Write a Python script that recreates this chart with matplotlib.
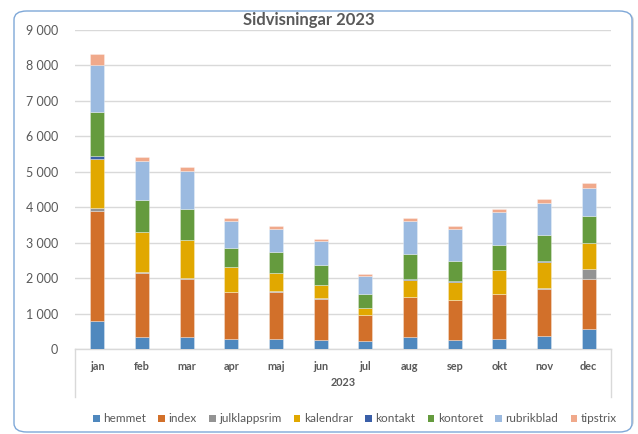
import numpy as np
import matplotlib
matplotlib.use("Agg")
import matplotlib.pyplot as plt
from matplotlib.patches import FancyBboxPatch, Patch
from matplotlib.ticker import FuncFormatter

# ---------------- data ----------------
months = ["jan", "feb", "mar", "apr", "maj", "jun",
          "jul", "aug", "sep", "okt", "nov", "dec"]
year_label = "2023"

hemmet = [790, 347, 330, 274, 274, 262, 217, 339, 262, 274, 358, 573]
index = [3110, 1800, 1654, 1326, 1343, 1157, 734, 1120, 1121, 1269, 1327, 1394]
julklappsrim = [70, 15, 10, 10, 10, 10, 8, 10, 10, 10, 28, 282]
kalendrar = [1400, 1130, 1083, 694, 519, 378, 186, 469, 488, 666, 750, 733]
kontakt = [65, 20, 10, 10, 10, 5, 5, 47, 40, 10, 10, 10]
kontoret = [1255, 890, 853, 526, 572, 548, 390, 700, 561, 696, 744, 769]
rubrikblad = [1310, 1100, 1073, 762, 669, 689, 519, 913, 894, 942, 911, 790]
tipstrix = [310, 125, 125, 85, 83, 56, 65, 94, 85, 93, 104, 124]

series_names = ["hemmet", "index", "julklappsrim", "kalendrar",
                "kontakt", "kontoret", "rubrikblad", "tipstrix"]
series_data = [hemmet, index, julklappsrim, kalendrar,
               kontakt, kontoret, rubrikblad, tipstrix]
series_colors = ["#4F88BE", "#D2702A", "#939393", "#E1A800",
                 "#3A5FA8", "#659B3E", "#9BBAE0", "#F0A98B"]

# ---------------- figure ----------------
W, H = 638, 434
fig = plt.figure(figsize=(W / 100, H / 100), dpi=100)
plt.rcParams['font.family'] = ['Lato', 'DejaVu Sans']

txt = "#595959"

# chart frame with soft shadow
shadow = FancyBboxPatch((17 / W, 4 / H), 617 / W, 418 / H,
                        boxstyle="round,pad=0,rounding_size=0.02",
                        transform=fig.transFigure, facecolor="#BBBBBB",
                        edgecolor="none", alpha=0.5, zorder=0)
fig.patches.append(shadow)
frame = FancyBboxPatch((14 / W, 2 / H), 618 / W, 421 / H,
                       boxstyle="round,pad=0,rounding_size=0.02",
                       transform=fig.transFigure, facecolor="white",
                       edgecolor="#7FA8D8", linewidth=1.0, zorder=1)
fig.patches.append(frame)

left, right, top, bottom = 75, 611, 30, 349
ax = fig.add_axes([left / W, 1 - bottom / H, (right - left) / W, (bottom - top) / H])
ax.set_facecolor("none")
ax.set_zorder(2)

x = np.arange(len(months))
base = np.zeros(len(months))
for name, vals, col in zip(series_names, series_data, series_colors):
    ax.bar(x, vals, bottom=base, width=0.31, color=col, label=name,
           edgecolor=(1, 1, 1, 0.35), linewidth=0.6, zorder=3)
    base += np.array(vals)

ax.set_xlim(-0.5, len(months) - 0.5)
ax.set_ylim(0, 9000)
ax.set_yticks(np.arange(0, 9001, 1000))
ax.yaxis.set_major_formatter(FuncFormatter(lambda v, p: f"{int(v):,}".replace(",", " ")))
ax.tick_params(axis="y", length=0, pad=12, labelsize=9, labelcolor=txt)
ax.grid(axis="y", color="#D9D9D9", linewidth=1.0, zorder=0)
ax.set_axisbelow(True)

for s in ["top", "right", "left"]:
    ax.spines[s].set_visible(False)
ax.spines["bottom"].set_color("#D9D9D9")
ax.spines["bottom"].set_linewidth(1.0)

# two-level category axis
ax.set_xticks([])
ph = bottom - top
for i, m in enumerate(months):
    ax.text(i, -(366 - bottom) / ph, m, transform=ax.get_xaxis_transform(),
            ha="center", va="center", fontsize=7.8, fontweight="bold", color=txt)
ax.text(0.5, -(383 - bottom) / ph, year_label, transform=ax.transAxes,
        ha="center", va="center", fontsize=7.8, fontweight="bold", color=txt)
for xe in (0.0, 1.0):
    ax.plot([xe, xe], [0, -(397 - bottom) / ph], transform=ax.transAxes,
            color="#D9D9D9", linewidth=1.0, clip_on=False)

fig.text(309 / W, 1 - 20 / H, "Sidvisningar 2023", ha="center", va="center",
         fontsize=12, fontweight="bold", color=txt)

handles = [Patch(facecolor=c, edgecolor="none") for c in series_colors]
leg = fig.legend(handles, series_names, loc="center", ncol=8,
                 bbox_to_anchor=(355 / W, 1 - 419 / H), frameon=False,
                 fontsize=8.5, handlelength=0.55, handleheight=0.55,
                 handletextpad=0.3, columnspacing=1.05, labelcolor=txt,
                 borderpad=0, borderaxespad=0)

fig.savefig("out.png", dpi=100)
